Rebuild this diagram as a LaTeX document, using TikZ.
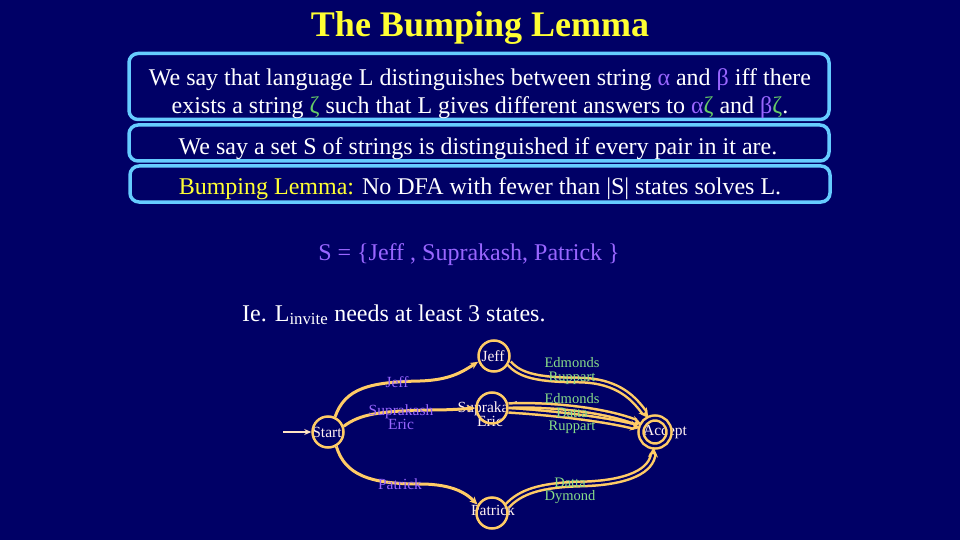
\documentclass[tikz,border=0pt]{standalone}
\usepackage{fontspec}
\setmainfont{Liberation Serif}
\usetikzlibrary{arrows.meta}
\definecolor{slidebg}{HTML}{000066}
\definecolor{boxline}{HTML}{66CCFF}
\definecolor{lav}{HTML}{9966FF}
\definecolor{zetagreen}{HTML}{66CC66}
\definecolor{titleyel}{HTML}{FFFF33}
\definecolor{edgeorg}{HTML}{FFCC66}
\definecolor{entryline}{HTML}{FFE4C4}
\definecolor{answer}{HTML}{88DD88}
\definecolor{statewhite}{HTML}{FFF0F0}
\begin{document}
\begin{tikzpicture}[x=1pt, y=-1pt,
  infobox/.style={draw=boxline, line width=3.5pt, rounded corners=9pt, minimum width=700pt},
  boxtext/.style={align=center, text=white, inner sep=0pt, font=\fontsize{24}{28}\selectfont},
  state/.style={circle, draw=edgeorg, line width=2.5pt, minimum size=31pt, inner sep=0pt},
  statetext/.style={text=statewhite, font=\fontsize{15.5}{12}\selectfont, align=center},
  trans/.style={draw=edgeorg, line width=3pt, -{Stealth[length=8pt,width=7pt]}},
  bundle/.style={draw=edgeorg, line width=2.5pt, double=slidebg, double distance=2pt, -{Stealth[length=10pt,width=10pt]}},
  person/.style={text=lav, font=\fontsize{15.5}{14}\selectfont, align=center},
  prof/.style={text=answer, font=\fontsize{14.5}{13.5}\selectfont, align=center}]
  \fill[slidebg] (0,0) rectangle (960,540);
  \useasboundingbox (0,0) rectangle (960,540);
  % title and definitions
  \node[text=titleyel, font=\fontsize{36}{40}\selectfont\bfseries] (title) at (480,28) {The Bumping Lemma};
  \node[infobox, minimum height=66pt] (defn) at (479,86.5) {};
  \node[infobox, minimum height=36pt] (dset) at (479,143) {};
  \node[infobox, minimum height=36pt] (lemma) at (480,184) {};
  \node[boxtext] (defntxt) at (480,94) {We say that language L distinguishes between string \textcolor{lav}{α} and \textcolor{lav}{β} iff there\\exists a string \textcolor{zetagreen}{ζ} such that L gives different answers to \textcolor{lav}{α}\textcolor{zetagreen}{ζ} and \textcolor{lav}{β}\textcolor{zetagreen}{ζ}.};
  \node[boxtext] (dsettxt) at (478,149) {We say a set S of strings is distinguished if every pair in it are.};
  \node[boxtext] (lemmatxt) at (480,189) {\textcolor{titleyel}{Bumping Lemma:} No DFA with fewer than |S| states solves L.};
  \node[text=lav, inner sep=0pt, font=\fontsize{24}{28}\selectfont] (set) at (469,255) {S = \{Jeff , Suprakash, Patrick \}};
  \node[anchor=base west, inner sep=0pt, text=white, font=\fontsize{24}{28}\selectfont] (ie) at (242,321) {Ie. L\textsubscript{invite} needs at least 3 states.};
  % state labels first, circles drawn over them
  \node[statetext] (startlbl) at (327,432) {Start};
  \node[statetext] (jefflbl) at (493,356) {Jeff};
  \node[statetext] (suplbl) at (490,414) {Suprakash\\Eric};
  \node[statetext] (patlbl) at (493,510) {Patrick};
  \node[statetext] (acclbl) at (665,432) {Accept};
  \node[state] (start) at (328,432) {};
  \node[state] (jeff) at (494,356) {};
  \node[state] (suprak) at (492,408) {};
  \node[state] (patrick) at (492,513) {};
  \node[state, line width=2.5pt, double=slidebg, double distance=2.5pt, minimum size=28pt] (accept) at (655,432) {};
  \coordinate (entry) at (283,432);
  \draw[draw=entryline, line width=2pt, -{Stealth[length=7pt,width=6pt]}] (entry) -- (start);
  % first letter
  \draw[trans] (start.65) .. controls (345,388) and (370,382) .. (420,381) .. controls (450,380) and (462,372) .. (jeff.200);
  \draw[trans] (start.20) .. controls (360,414) and (380,411) .. (430,410) .. controls (450,410) and (462,409) .. (suprak.180);
  \draw[trans] (start.-60) .. controls (345,475) and (370,484) .. (420,484) .. controls (455,484) and (468,495) .. (patrick.150);
  % rest of the name
  \draw[bundle] (jeff.-25) .. controls (520,376) and (540,380) .. (580,380) .. controls (620,381) and (635,400) .. (accept.115);
  \draw[bundle] (suprak.8) .. controls (540,404) and (600,408) .. (accept.150);
  \draw[bundle] (suprak.-8) .. controls (540,412) and (600,418) .. (accept.165);
  \draw[bundle] (patrick.25) .. controls (520,492) and (540,485) .. (580,484) .. controls (630,483) and (652,470) .. (accept.-95);
  % edge labels
  \node[person] (ljeff) at (397,382) {Jeff};
  \node[person] (lsup) at (401,417) {Suprakash\\Eric};
  \node[person] (lpat) at (400,484) {Patrick};
  \node[prof] (lja) at (572,371) {Edmonds\\Ruppart};
  \node[prof] (lsa) at (572,414) {Edmonds\\Datta\\Ruppart};
  \node[prof] (lpa) at (570,491) {Datta\\Dymond};
\end{tikzpicture}
\end{document}
